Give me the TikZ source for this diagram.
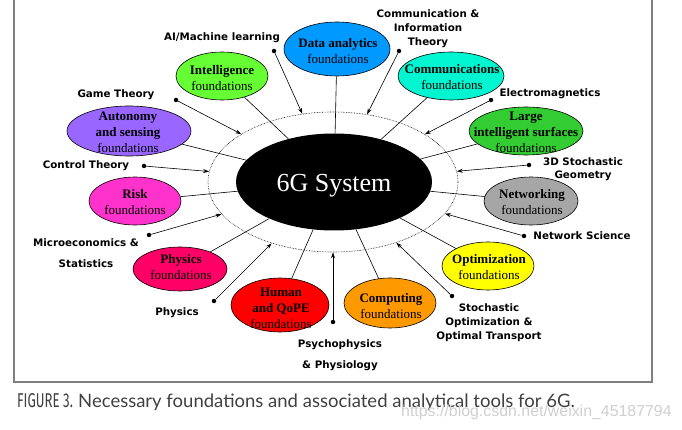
\documentclass[tikz,border=0pt]{standalone}
\usepackage{fontspec}
\setmainfont{Liberation Serif}
\newfontfamily\lblfont{DejaVu Sans}
\newfontfamily\capfont{Lato}
\newfontfamily\wmfont{Liberation Sans}
\newfontfamily\figfont{Fira Sans}
\usetikzlibrary{shapes.geometric,arrows.meta}
\definecolor{cData}{HTML}{0099FF}
\definecolor{cComm}{HTML}{00F5D0}
\definecolor{cLIS}{HTML}{33CC33}
\definecolor{cNet}{HTML}{A6A6A6}
\definecolor{cOpt}{HTML}{FFFF00}
\definecolor{cComp}{HTML}{FF9900}
\definecolor{cHum}{HTML}{FF0000}
\definecolor{cPhys}{HTML}{FF0066}
\definecolor{cRisk}{HTML}{FF33CC}
\definecolor{cAuto}{HTML}{9966FF}
\definecolor{cIntel}{HTML}{66FF33}
\definecolor{frame}{HTML}{7F7F7F}
\definecolor{captxt}{HTML}{404040}
\definecolor{wmark}{HTML}{CFCFCF}
\begin{document}
\begin{tikzpicture}[x=1pt,y=-1pt,
  fnd/.style={ellipse,draw=black,line width=0.6pt,inner sep=0pt},
  fndtext/.style={align=center,inner sep=0pt,font=\fontsize{13}{16}\selectfont},
  tool/.style={align=center,inner sep=0pt,font=\lblfont\bfseries\fontsize{10.3}{14}\selectfont},
  dotn/.style={circle,fill=black,inner sep=0pt,minimum size=4.5pt},
  link/.style={draw=black,line width=0.6pt},
  toolarrow/.style={draw=black,line width=0.6pt,-{Stealth[length=6pt,width=4pt]}},
]
\useasboundingbox (0,0) rectangle (682,430);
% frame
\draw[frame,line width=1.3pt] (14,0) -- (14,382) -- (652,382) -- (652,0);

% centre
\node[ellipse,draw,densely dotted,line width=0.6pt,minimum width=250pt,minimum height=140pt,inner sep=0pt] (ring) at (333,182) {};
\node[ellipse,fill=black,minimum width=196pt,minimum height=97pt,inner sep=0pt] (sys) at (334,182) {};
\node[text=white,inner sep=0pt,font=\fontsize{26}{30}\selectfont] (systxt) at (334,186) {6G System};

% foundations
\node[fnd,fill=cData,minimum width=106pt,minimum height=54pt] (data) at (337,49) {};
\node[fndtext] (datat) at (338,51) {\textbf{Data analytics}\\foundations};
\node[fnd,fill=cComm,minimum width=106pt,minimum height=48pt] (comm) at (451,76) {};
\node[fndtext] (commt) at (452,77) {\textbf{Communications}\\foundations};
\node[fnd,fill=cLIS,minimum width=114pt,minimum height=48pt] (lis) at (526,131) {};
\node[fndtext] (list) at (526,132) {\textbf{Large}\\\textbf{intelligent surfaces}\\foundations};
\node[fnd,fill=cNet,minimum width=94pt,minimum height=48pt] (net) at (531,201) {};
\node[fndtext] (nett) at (532,202) {\textbf{Networking}\\foundations};
\node[fnd,fill=cOpt,minimum width=92pt,minimum height=48pt] (opt) at (488,266) {};
\node[fndtext] (optt) at (489,267) {\textbf{Optimization}\\foundations};
\node[fnd,fill=cComp,minimum width=92pt,minimum height=50pt] (comp) at (390,303) {};
\node[fndtext] (compt) at (391,306) {\textbf{Computing}\\foundations};
\node[fnd,fill=cHum,minimum width=98pt,minimum height=54pt] (hum) at (280,305) {};
\node[fndtext] (humt) at (281,308) {\textbf{Human}\\\textbf{and QoPE}\\foundations};
\node[fnd,fill=cPhys,minimum width=94pt,minimum height=44pt] (phys) at (180,269) {};
\node[fndtext] (physt) at (181,267) {\textbf{Physics}\\foundations};
\node[fnd,fill=cRisk,minimum width=92pt,minimum height=48pt] (risk) at (135,201) {};
\node[fndtext] (riskt) at (135,202) {\textbf{Risk}\\foundations};
\node[fnd,fill=cAuto,minimum width=124pt,minimum height=50pt] (auto) at (129,131) {};
\node[fndtext] (autot) at (128,132) {\textbf{Autonomy}\\\textbf{and sensing}\\foundations};
\node[fnd,fill=cIntel,minimum width=92pt,minimum height=48pt] (intel) at (222,76) {};
\node[fndtext] (intelt) at (222,78) {\textbf{Intelligence}\\foundations};

% links foundation -> system
\foreach \f in {data,comm,lis,net,opt,comp,hum,phys,risk,auto,intel}
  \draw[link] (\f) -- (sys);

% tool labels
\node[tool] (tAI) at (222,38) {AI/Machine learning};
\node[tool] (tComm) at (428,29) {Communication \&\\Information\\Theory};
\node[tool] (tGame) at (116,95) {Game Theory};
\node[tool] (tEM) at (550,94) {Electromagnetics};
\node[tool] (tCtrl) at (86,166) {Control Theory};
\node[tool,font=\lblfont\bfseries\fontsize{10.3}{13}\selectfont] (tGeo) at (583,169) {3D Stochastic\\Geometry};
\node[tool,font=\lblfont\bfseries\fontsize{10.3}{21}\selectfont] (tMicro) at (86,253) {Microeconomics \&\\Statistics};
\node[tool] (tNet) at (582,236) {Network Science};
\node[tool] (tPhys) at (177,313) {Physics};
\node[tool] (tStoch) at (489,323) {Stochastic\\Optimization \&\\Optimal Transport};
\node[tool,font=\lblfont\bfseries\fontsize{10.3}{21}\selectfont] (tPsy) at (340,355) {Psychophysics\\\& Physiology};

% dots
\node[dotn] (dAI) at (274,51) {};
\node[dotn] (dComm) at (399,51) {};
\node[dotn] (dGame) at (176,100) {};
\node[dotn] (dEM) at (491,100) {};
\node[dotn] (dCtrl) at (144,166) {};
\node[dotn] (dGeo) at (529,165) {};
\node[dotn] (dMicro) at (149,235) {};
\node[dotn] (dNet) at (524,236) {};
\node[dotn] (dPhys) at (214,301) {};
\node[dotn] (dStoch) at (452,296) {};
\node[dotn] (dPsy) at (333,322) {};
\foreach \d in {dAI,dComm,dGame,dEM,dCtrl,dGeo,dMicro,dNet,dPhys,dStoch,dPsy}
  \draw[toolarrow] (\d) -- (ring);

% caption
\node[anchor=base west,inner sep=0pt,text=captxt,font=\figfont\fontsize{20}{24}\selectfont] (figlbl) at (17,407) {\scalebox{0.66}[1]{FIGURE 3.}};
\node[anchor=base west,inner sep=0pt,text=captxt,font=\capfont\fontsize{18.5}{22}\selectfont] (cap) at (78,407) {Necessary foundations and associated analytical tools for 6G.};
\node[anchor=west,inner sep=0pt,text=wmark,font=\wmfont\fontsize{15.9}{19}\selectfont] (wm) at (401,412) {https://blog.csdn.net/weixin\_45187794};
\end{tikzpicture}
\end{document}
